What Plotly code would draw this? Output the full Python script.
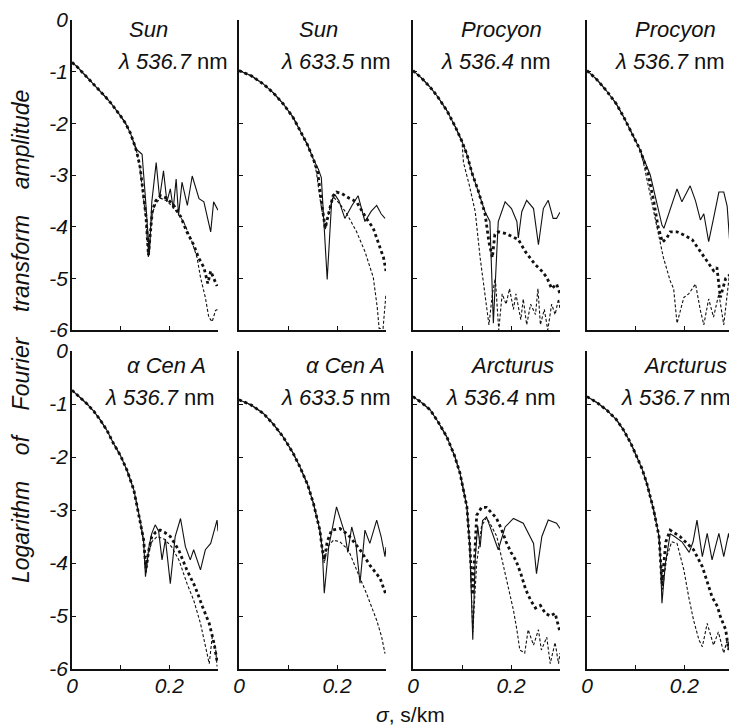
import plotly.graph_objects as go

# ---------------- data ----------------
star_names = ["Sun", "Sun", "Procyon", "Procyon", "α Cen A", "α Cen A", "Arcturus", "Arcturus"]
wavelengths = ["536.7", "633.5", "536.4", "536.7", "536.7", "633.5", "536.4", "536.7"]
y_ticks = [-6, -5, -4, -3, -2, -1, 0]
y_tick_labels = ["-6", "-5", "-4", "-3", "-2", "-1", "0"]
x_ticks = [0, 0.1, 0.2, 0.3]
x_tick_labels = ["0", "", "0.2", ""]

# Panel 1: Sun 536.7
p1_head_x = [0, 0.01, 0.02, 0.03, 0.04, 0.05, 0.06, 0.07, 0.08, 0.09, 0.10, 0.11, 0.12, 0.126]
p1_head_y = [-0.82, -0.90, -1.0, -1.1, -1.19, -1.28, -1.39, -1.5, -1.61, -1.73, -1.86, -2.0, -2.19, -2.35]
p1_obs_x = [0.133, 0.137, 0.144, 0.151, 0.159, 0.164, 0.173, 0.180, 0.188, 0.195, 0.202, 0.208, 0.214, 0.219, 0.226, 0.237, 0.247, 0.261, 0.271, 0.285, 0.291, 0.300]
p1_obs_y = [-2.51, -2.54, -2.60, -3.46, -4.54, -3.52, -2.76, -3.45, -2.92, -3.52, -3.27, -3.65, -3.08, -3.78, -3.14, -3.59, -3.02, -3.46, -3.52, -4.10, -3.52, -3.68]
p1_a_x = [0.133, 0.140, 0.146, 0.152, 0.157, 0.165, 0.172, 0.182, 0.195, 0.21, 0.223, 0.236, 0.250, 0.260, 0.271, 0.279, 0.285, 0.292, 0.298]
p1_a_y = [-2.55, -2.85, -3.3, -3.8, -4.55, -3.7, -3.5, -3.40, -3.45, -3.6, -3.8, -4.1, -4.35, -4.6, -4.79, -5.1, -4.86, -5.0, -5.15]
p1_b_x = [0.133, 0.140, 0.146, 0.152, 0.157, 0.165, 0.172, 0.182, 0.195, 0.21, 0.229, 0.245, 0.257, 0.264, 0.274, 0.281, 0.288, 0.295, 0.30]
p1_b_y = [-2.55, -2.9, -3.35, -3.85, -4.6, -3.75, -3.55, -3.45, -3.5, -3.65, -3.90, -4.25, -4.60, -4.98, -5.37, -5.75, -5.84, -5.62, -5.6]

# Panel 2: Sun 633.5
p2_head_x = [0, 0.025, 0.05, 0.07, 0.09, 0.11, 0.124, 0.14, 0.152]
p2_head_y = [-0.98, -1.08, -1.24, -1.41, -1.62, -1.88, -2.13, -2.42, -2.70]
p2_obs_x = [0.162, 0.168, 0.172, 0.180, 0.189, 0.195, 0.204, 0.216, 0.230, 0.243, 0.257, 0.270, 0.281, 0.29, 0.298]
p2_obs_y = [-2.89, -3.05, -3.65, -5.02, -3.52, -3.37, -3.5, -3.84, -3.6, -3.40, -3.90, -3.7, -3.59, -3.75, -3.84]
p2_a_x = [0.160, 0.168, 0.176, 0.184, 0.192, 0.199, 0.21, 0.225, 0.240, 0.260, 0.274, 0.288, 0.295, 0.30]
p2_a_y = [-2.9, -3.5, -4.03, -3.7, -3.4, -3.33, -3.36, -3.45, -3.52, -3.84, -4.03, -4.41, -4.6, -4.86]
p2_b_x = [0.158, 0.166, 0.176, 0.184, 0.192, 0.205, 0.220, 0.240, 0.257, 0.274, 0.282, 0.286, 0.294, 0.300]
p2_b_y = [-2.95, -3.5, -4.05, -3.7, -3.42, -3.55, -3.75, -4.1, -4.48, -4.98, -5.55, -5.97, -5.97, -5.3]

# Panel 3: Procyon 536.4
p3_head_x = [0, 0.017, 0.035, 0.05, 0.069, 0.086, 0.10]
p3_head_y = [-0.98, -1.12, -1.30, -1.48, -1.75, -2.06, -2.35]
p3_obs_x = [0.110, 0.120, 0.133, 0.147, 0.157, 0.164, 0.174, 0.188, 0.201, 0.212, 0.215, 0.222, 0.232, 0.246, 0.256, 0.266, 0.276, 0.286, 0.293, 0.30]
p3_obs_y = [-2.6, -2.95, -3.3, -3.71, -3.90, -5.87, -3.90, -3.52, -3.65, -3.90, -4.22, -3.71, -3.49, -3.65, -4.35, -3.65, -3.49, -3.84, -3.84, -3.72]
p3_a_x = [0.110, 0.120, 0.133, 0.147, 0.155, 0.162, 0.167, 0.174, 0.188, 0.20, 0.215, 0.229, 0.249, 0.262, 0.273, 0.283, 0.293, 0.30]
p3_a_y = [-2.6, -2.95, -3.3, -3.75, -4.3, -4.6, -4.15, -4.10, -4.13, -4.18, -4.25, -4.48, -4.73, -4.85, -4.98, -5.2, -5.11, -5.3]
p3_b_x = [0.103, 0.115, 0.127, 0.137, 0.147, 0.155, 0.162, 0.168, 0.175, 0.182, 0.19, 0.197, 0.205, 0.21, 0.22, 0.225, 0.232, 0.24, 0.25, 0.255, 0.26, 0.268, 0.275, 0.283, 0.29, 0.297, 0.30]
p3_b_y = [-2.76, -3.2, -3.71, -4.6, -5.3, -5.9, -5.3, -5.0, -6.0, -5.3, -5.5, -5.2, -5.6, -5.3, -5.8, -5.4, -5.9, -5.5, -5.7, -5.2, -5.9, -5.6, -6.0, -5.5, -5.7, -5.4, -5.6]

# Panel 4: Procyon 536.7
p4_head_x = [0, 0.02, 0.04, 0.06, 0.075, 0.09, 0.109]
p4_head_y = [-0.98, -1.15, -1.37, -1.62, -1.87, -2.15, -2.51]
p4_obs_x = [0.13, 0.144, 0.154, 0.158, 0.170, 0.185, 0.195, 0.212, 0.223, 0.233, 0.240, 0.250, 0.260, 0.271, 0.281, 0.288, 0.295, 0.300]
p4_obs_y = [-3.0, -3.55, -3.97, -4.03, -3.7, -3.27, -3.52, -3.21, -3.5, -3.87, -3.75, -4.29, -3.84, -3.33, -3.33, -3.6, -4.54, -3.6]
p4_a_x = [0.125, 0.137, 0.146, 0.155, 0.164, 0.171, 0.185, 0.199, 0.216, 0.233, 0.250, 0.260, 0.267, 0.274, 0.285, 0.295, 0.30]
p4_a_y = [-2.95, -3.5, -4.0, -4.3, -4.22, -4.10, -4.1, -4.16, -4.25, -4.48, -4.73, -4.85, -4.79, -5.37, -5.0, -4.92, -5.4]
p4_b_x = [0.116, 0.137, 0.157, 0.171, 0.178, 0.185, 0.199, 0.209, 0.223, 0.233, 0.240, 0.250, 0.260, 0.271, 0.281, 0.292, 0.30]
p4_b_y = [-2.76, -3.71, -4.6, -5.05, -5.2, -5.87, -5.37, -5.3, -5.11, -5.62, -5.9, -5.4, -5.75, -5.3, -5.9, -4.98, -5.4]

# Panel 5: alpha Cen A 536.7
p5_head_x = [0, 0.015, 0.030, 0.045, 0.058, 0.072, 0.085, 0.10, 0.113, 0.127]
p5_head_y = [-0.74, -0.86, -0.99, -1.14, -1.30, -1.50, -1.74, -1.98, -2.25, -2.62]
p5_obs_x = [0.140, 0.147, 0.151, 0.158, 0.164, 0.171, 0.178, 0.185, 0.192, 0.202, 0.212, 0.223, 0.233, 0.243, 0.250, 0.264, 0.274, 0.285, 0.298, 0.30]
p5_obs_y = [-3.19, -3.57, -4.26, -3.7, -3.44, -3.28, -3.4, -3.94, -3.55, -4.39, -3.5, -3.16, -3.69, -3.94, -3.75, -4.13, -3.75, -3.63, -3.19, -3.4]
p5_a_x = [0.140, 0.147, 0.152, 0.158, 0.164, 0.172, 0.181, 0.19, 0.202, 0.219, 0.236, 0.253, 0.268, 0.282, 0.292, 0.298]
p5_a_y = [-3.19, -3.55, -4.1, -3.75, -3.50, -3.42, -3.38, -3.42, -3.50, -3.75, -4.13, -4.45, -4.82, -5.14, -5.52, -5.85]
p5_b_x = [0.140, 0.147, 0.152, 0.158, 0.164, 0.175, 0.19, 0.205, 0.22, 0.236, 0.250, 0.264, 0.274, 0.282, 0.288, 0.295, 0.298]
p5_b_y = [-3.19, -3.6, -4.2, -3.8, -3.6, -3.5, -3.55, -3.7, -3.95, -4.38, -4.70, -5.14, -5.58, -5.9, -5.4, -5.6, -5.95]

# Panel 6: alpha Cen A 633.5
p6_head_x = [0, 0.025, 0.05, 0.07, 0.09, 0.11, 0.124, 0.14, 0.152, 0.165]
p6_head_y = [-0.92, -1.02, -1.18, -1.38, -1.62, -1.92, -2.18, -2.52, -2.88, -3.38]
p6_obs_x = [0.170, 0.174, 0.183, 0.193, 0.199, 0.216, 0.222, 0.230, 0.238, 0.247, 0.257, 0.267, 0.281, 0.290, 0.298, 0.30]
p6_obs_y = [-3.75, -4.57, -3.7, -3.25, -2.94, -3.44, -3.8, -3.32, -3.6, -4.38, -3.38, -3.63, -3.19, -3.5, -3.88, -3.7]
p6_a_x = [0.170, 0.174, 0.18, 0.189, 0.206, 0.223, 0.247, 0.267, 0.288, 0.30]
p6_a_y = [-3.75, -3.94, -3.6, -3.38, -3.35, -3.47, -3.75, -4.04, -4.29, -4.6]
p6_b_x = [0.170, 0.174, 0.18, 0.193, 0.206, 0.223, 0.240, 0.260, 0.281, 0.291, 0.298]
p6_b_y = [-3.75, -4.0, -3.7, -3.57, -3.6, -3.75, -4.13, -4.57, -5.08, -5.39, -5.71]

# Panel 7: Arcturus 536.4
p7_head_x = [0, 0.017, 0.035, 0.05, 0.069, 0.085, 0.096, 0.110]
p7_head_y = [-0.86, -0.97, -1.11, -1.32, -1.62, -1.98, -2.31, -2.94]
p7_obs_x = [0.116, 0.122, 0.127, 0.132, 0.137, 0.142, 0.150, 0.164, 0.174, 0.188, 0.205, 0.225, 0.246, 0.252, 0.263, 0.276, 0.293, 0.30]
p7_obs_y = [-3.69, -5.45, -3.9, -3.3, -3.7, -3.2, -3.13, -3.5, -3.75, -3.32, -3.16, -3.25, -3.63, -4.2, -3.5, -3.19, -3.25, -3.35]
p7_a_x = [0.116, 0.122, 0.13, 0.14, 0.15, 0.16, 0.17, 0.18, 0.19, 0.2, 0.21, 0.22, 0.23, 0.24, 0.25, 0.26, 0.27, 0.28, 0.29, 0.30]
p7_a_y = [-3.69, -4.6, -3.1, -2.95, -2.95, -3.05, -3.15, -3.35, -3.6, -3.8, -3.95, -4.2, -4.5, -4.7, -4.85, -4.8, -4.95, -5.0, -4.95, -5.3]
p7_b_x = [0.116, 0.122, 0.13, 0.14, 0.15, 0.16, 0.171, 0.184, 0.195, 0.205, 0.212, 0.218, 0.228, 0.235, 0.246, 0.256, 0.262, 0.273, 0.280, 0.29, 0.297, 0.30]
p7_b_y = [-3.69, -5.3, -4.0, -3.3, -3.15, -3.3, -3.50, -4.01, -4.45, -4.89, -5.26, -5.64, -5.7, -5.26, -5.55, -5.26, -5.64, -5.4, -5.9, -5.5, -5.9, -5.7]

# Panel 8: Arcturus 536.7
p8_head_x = [0, 0.02, 0.04, 0.06, 0.075, 0.09, 0.102, 0.113, 0.123, 0.137, 0.148]
p8_head_y = [-0.86, -0.97, -1.11, -1.29, -1.49, -1.74, -1.99, -2.22, -2.50, -3.0, -3.50]
p8_obs_x = [0.151, 0.154, 0.161, 0.171, 0.18, 0.195, 0.21, 0.218, 0.226, 0.237, 0.247, 0.257, 0.271, 0.281, 0.291, 0.30]
p8_obs_y = [-3.94, -4.76, -4.01, -3.45, -3.5, -3.6, -3.8, -3.6, -3.19, -3.88, -3.44, -3.94, -3.44, -3.88, -3.44, -3.95]
p8_a_x = [0.151, 0.154, 0.162, 0.171, 0.191, 0.219, 0.237, 0.247, 0.257, 0.268, 0.274, 0.285, 0.291, 0.30]
p8_a_y = [-3.94, -4.39, -3.6, -3.38, -3.50, -3.75, -4.07, -4.38, -4.64, -4.82, -5.01, -5.26, -5.64, -5.1]
p8_b_x = [0.151, 0.155, 0.164, 0.174, 0.185, 0.199, 0.209, 0.219, 0.230, 0.237, 0.247, 0.26, 0.27, 0.281, 0.288, 0.298]
p8_b_y = [-3.94, -4.5, -3.88, -3.6, -3.63, -4.13, -4.64, -5.08, -5.45, -5.58, -5.14, -5.55, -5.3, -5.7, -5.45, -5.8]

panels = [
    (p1_head_x, p1_head_y, p1_obs_x, p1_obs_y, p1_a_x, p1_a_y, p1_b_x, p1_b_y),
    (p2_head_x, p2_head_y, p2_obs_x, p2_obs_y, p2_a_x, p2_a_y, p2_b_x, p2_b_y),
    (p3_head_x, p3_head_y, p3_obs_x, p3_obs_y, p3_a_x, p3_a_y, p3_b_x, p3_b_y),
    (p4_head_x, p4_head_y, p4_obs_x, p4_obs_y, p4_a_x, p4_a_y, p4_b_x, p4_b_y),
    (p5_head_x, p5_head_y, p5_obs_x, p5_obs_y, p5_a_x, p5_a_y, p5_b_x, p5_b_y),
    (p6_head_x, p6_head_y, p6_obs_x, p6_obs_y, p6_a_x, p6_a_y, p6_b_x, p6_b_y),
    (p7_head_x, p7_head_y, p7_obs_x, p7_obs_y, p7_a_x, p7_a_y, p7_b_x, p7_b_y),
    (p8_head_x, p8_head_y, p8_obs_x, p8_obs_y, p8_a_x, p8_a_y, p8_b_x, p8_b_y),
]

# ---------------- layout geometry (page pixels) ----------------
PAGE_W, PAGE_H = 737, 727
OFF = 8                      # default page body margin
W, H = PAGE_W - OFF, PAGE_H - OFF
col_px = [(72, 218), (239, 386), (413, 560), (587, 733)]
row_px = [(20, 330), (351, 669)]
title_top = [15, 351]
line1_cx = [148, 318, 502, 675, 166, 345, 512, 685]
line2_rx = [230, 393, 553, 727, 217, 393, 558, 733]


def fx(px):
    return (px - OFF) / W


def fy(py):
    return 1 - (py - OFF) / H


FONT = "Liberation Sans"
INK = "#111111"

fig = go.Figure()
layout = dict(
    template="none",
    width=W, height=H, margin=dict(l=0, r=0, t=0, b=0, pad=0, autoexpand=False),
    paper_bgcolor="white", plot_bgcolor="white", showlegend=False,
    font=dict(family=FONT, color=INK),
)
annotations = []

for i, (hx, hy, ox, oy, ax_, ay_, bx, by) in enumerate(panels):
    r, c = divmod(i, 4)
    n = i + 1
    xs = "x" if n == 1 else f"x{n}"
    ys = "y" if n == 1 else f"y{n}"
    xk = "xaxis" if n == 1 else f"xaxis{n}"
    yk = "yaxis" if n == 1 else f"yaxis{n}"
    x0, x1 = col_px[c]
    y0, y1 = row_px[r]
    t0 = title_top[r]

    fig.add_trace(go.Scatter(x=hx + bx, y=hy + by, xaxis=xs, yaxis=ys, mode="lines",
                             line=dict(color=INK, width=1.1, dash="3px,2px")))
    fig.add_trace(go.Scatter(x=hx + ax_, y=hy + ay_, xaxis=xs, yaxis=ys, mode="lines",
                             line=dict(color=INK, width=2.8, dash="dot")))
    fig.add_trace(go.Scatter(x=hx + ox, y=hy + oy, xaxis=xs, yaxis=ys, mode="lines",
                             line=dict(color=INK, width=1.1)))

    layout[xk] = dict(
        domain=[fx(x0), fx(x1)], range=[0, 0.3], anchor=ys, automargin=False,
        tickvals=x_ticks, ticktext=x_tick_labels, showticklabels=(r == 1),
        ticks="inside", ticklen=4, tickwidth=1.2, tickcolor=INK,
        showline=True, linecolor=INK, linewidth=1.6, showgrid=False, zeroline=False,
        tickfont=dict(family=FONT, size=21, style="italic", color=INK),
        ticklabelstandoff=-3, ticklabeloverflow="allow", fixedrange=True,
    )
    layout[yk] = dict(
        domain=[fy(y1), fy(y0)], range=[-6, 0], anchor=xs, automargin=False,
        tickvals=y_ticks, ticktext=y_tick_labels, showticklabels=(c == 0),
        ticks="inside", ticklen=4, tickwidth=1.2, tickcolor=INK,
        showline=True, linecolor=INK, linewidth=1.6, showgrid=False, zeroline=False,
        tickfont=dict(family=FONT, size=21, style="italic", color=INK),
        ticklabelstandoff=-2, ticklabeloverflow="allow", fixedrange=True,
    )

    annotations.append(dict(
        xref="paper", yref="paper", x=fx(line1_cx[i]), y=fy(t0 + 14),
        xanchor="center", yanchor="middle", showarrow=False,
        text=f"<i>{star_names[i]}</i>", font=dict(family=FONT, size=22, color=INK)))
    annotations.append(dict(
        xref="paper", yref="paper", x=fx(line2_rx[i]), y=fy(t0 + 47),
        xanchor="right", yanchor="middle", showarrow=False,
        text=f"<i>λ {wavelengths[i]}</i> nm", font=dict(family=FONT, size=22, color=INK)))

# axis titles
annotations.append(dict(
    xref="paper", yref="paper", x=fx(410), y=fy(714), xanchor="center", yanchor="middle",
    showarrow=False, text="<i>σ</i>, s/km", font=dict(family=FONT, size=21, color=INK)))
annotations.append(dict(
    xref="paper", yref="paper", x=fx(21), y=fy(337), xanchor="center", yanchor="middle",
    showarrow=False, textangle=-90,
    text="<i>Logarithm\u00a0\u00a0\u00a0 of\u00a0\u00a0\u00a0 Fourier\u00a0\u00a0\u00a0 transform\u00a0\u00a0\u00a0 amplitude</i>",
    font=dict(family=FONT, size=23, color=INK)))

layout["annotations"] = annotations
fig.update_layout(**layout)
fig.write_html("out.html")
